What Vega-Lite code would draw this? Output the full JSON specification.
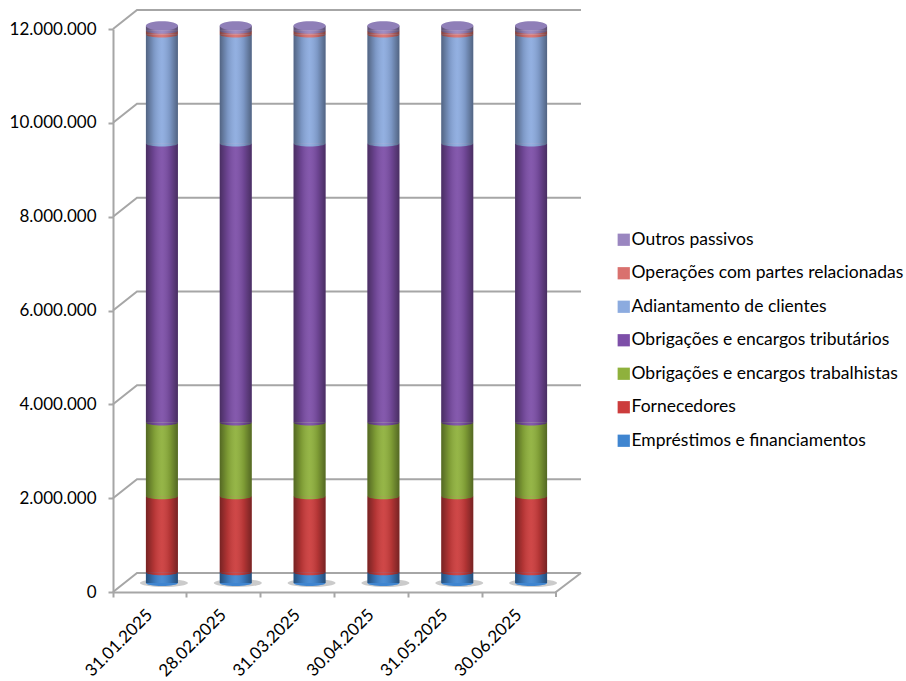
{
"$schema":"https://vega.github.io/schema/vega-lite/v6.json",
"width":443,"height":563,
"autosize":{"type":"none"},
"padding":{"left":113,"top":29,"right":350,"bottom":89},
"background":"white",
"data":{"values":[
{"date":"31.01.2025","series":"Empréstimos e financiamentos","ord":1,"value":230000},
{"date":"31.01.2025","series":"Fornecedores","ord":2,"value":1620000},
{"date":"31.01.2025","series":"Obrigações e encargos trabalhistas","ord":3,"value":1570000},
{"date":"31.01.2025","series":"Obrigações e encargos tributários","ord":4,"value":5950000},
{"date":"31.01.2025","series":"Adiantamento de clientes","ord":5,"value":2320000},
{"date":"31.01.2025","series":"Operações com partes relacionadas","ord":6,"value":80000},
{"date":"31.01.2025","series":"Outros passivos","ord":7,"value":110000},
{"date":"28.02.2025","series":"Empréstimos e financiamentos","ord":1,"value":230000},
{"date":"28.02.2025","series":"Fornecedores","ord":2,"value":1620000},
{"date":"28.02.2025","series":"Obrigações e encargos trabalhistas","ord":3,"value":1570000},
{"date":"28.02.2025","series":"Obrigações e encargos tributários","ord":4,"value":5950000},
{"date":"28.02.2025","series":"Adiantamento de clientes","ord":5,"value":2320000},
{"date":"28.02.2025","series":"Operações com partes relacionadas","ord":6,"value":80000},
{"date":"28.02.2025","series":"Outros passivos","ord":7,"value":110000},
{"date":"31.03.2025","series":"Empréstimos e financiamentos","ord":1,"value":230000},
{"date":"31.03.2025","series":"Fornecedores","ord":2,"value":1620000},
{"date":"31.03.2025","series":"Obrigações e encargos trabalhistas","ord":3,"value":1570000},
{"date":"31.03.2025","series":"Obrigações e encargos tributários","ord":4,"value":5950000},
{"date":"31.03.2025","series":"Adiantamento de clientes","ord":5,"value":2320000},
{"date":"31.03.2025","series":"Operações com partes relacionadas","ord":6,"value":80000},
{"date":"31.03.2025","series":"Outros passivos","ord":7,"value":110000},
{"date":"30.04.2025","series":"Empréstimos e financiamentos","ord":1,"value":230000},
{"date":"30.04.2025","series":"Fornecedores","ord":2,"value":1620000},
{"date":"30.04.2025","series":"Obrigações e encargos trabalhistas","ord":3,"value":1570000},
{"date":"30.04.2025","series":"Obrigações e encargos tributários","ord":4,"value":5950000},
{"date":"30.04.2025","series":"Adiantamento de clientes","ord":5,"value":2320000},
{"date":"30.04.2025","series":"Operações com partes relacionadas","ord":6,"value":80000},
{"date":"30.04.2025","series":"Outros passivos","ord":7,"value":110000},
{"date":"31.05.2025","series":"Empréstimos e financiamentos","ord":1,"value":230000},
{"date":"31.05.2025","series":"Fornecedores","ord":2,"value":1620000},
{"date":"31.05.2025","series":"Obrigações e encargos trabalhistas","ord":3,"value":1570000},
{"date":"31.05.2025","series":"Obrigações e encargos tributários","ord":4,"value":5950000},
{"date":"31.05.2025","series":"Adiantamento de clientes","ord":5,"value":2320000},
{"date":"31.05.2025","series":"Operações com partes relacionadas","ord":6,"value":80000},
{"date":"31.05.2025","series":"Outros passivos","ord":7,"value":110000},
{"date":"30.06.2025","series":"Empréstimos e financiamentos","ord":1,"value":230000},
{"date":"30.06.2025","series":"Fornecedores","ord":2,"value":1620000},
{"date":"30.06.2025","series":"Obrigações e encargos trabalhistas","ord":3,"value":1570000},
{"date":"30.06.2025","series":"Obrigações e encargos tributários","ord":4,"value":5950000},
{"date":"30.06.2025","series":"Adiantamento de clientes","ord":5,"value":2320000},
{"date":"30.06.2025","series":"Operações com partes relacionadas","ord":6,"value":80000},
{"date":"30.06.2025","series":"Outros passivos","ord":7,"value":110000}
]},
"transform":[{"stack":"value","groupby":["date"],"sort":[{"field":"ord","order":"ascending"}],"as":["y0","y1"]}],
"config":{"view":{"stroke":null},"font":"Lato"},
"encoding":{
"x":{"field":"date","type":"ordinal","sort":null,"scale":{"paddingInner":0,"paddingOuter":0},
"axis":{"title":null,"bandPosition":0,"labelAngle":-45,"labelAlign":"right","labelBaseline":"middle","labelFontSize":17,"labelColor":"#000000","labelFont":"Lato","labelPadding":15,"labelOffset":0,"domainColor":"#a6a6a6","domainWidth":2,"tickColor":"#a6a6a6","tickWidth":2,"tickSize":5,"grid":false}}
},
"layer":[
{"data":{"values":[{"tick":0},{"tick":2000000},{"tick":4000000},{"tick":6000000},{"tick":8000000},{"tick":10000000},{"tick":12000000}]},
 "transform":[],
 "mark":{"type":"point","filled":false,"stroke":"#a6a6a6","strokeWidth":2,"opacity":1,"size":4,"shape":"M-221.5,0L-197.5,-19L246.5,-19"},
 "encoding":{"x":null,"y":{"field":"tick","type":"quantitative","scale":{"domain":[0,12000000],"nice":false},
  "axis":{"title":null,"values":[0,2000000,4000000,6000000,8000000,10000000,12000000],"grid":false,"labelExpr":"replace(format(datum.value,','),/,/g,'.')","labelFontSize":17,"labelColor":"#000000","labelFont":"Lato","labelPadding":12,"domainColor":"#a6a6a6","domainWidth":2,"tickColor":"#a6a6a6","tickWidth":2,"tickSize":5}}}},
{"data":{"values":[{"tick":0}]},"transform":[],
 "mark":{"type":"point","filled":false,"stroke":"#a6a6a6","strokeWidth":2,"opacity":1,"size":4,"shape":"M221.5,5L221.5,0L246.5,-19"},
 "encoding":{"x":null,"y":{"field":"tick","type":"quantitative"}}},
{"transform":[{"filter":"datum.ord==1"}],
 "mark":{"type":"point","filled":true,"fill":"#8c8c8c","opacity":0.45,"size":4,"yOffset":-9,"xOffset":14,"shape":"M-24,0A24,4,0,1,1,24,0A24,4,0,1,1,-24,0Z"},
 "encoding":{"y":{"datum":0}}},
{"mark":{"type":"bar","width":32,"xOffset":12,"yOffset":-9,"y2Offset":-9},
 "encoding":{"y":{"field":"y0","type":"quantitative"},"y2":{"field":"y1"},
  "color":{"field":"series","type":"nominal","sort":null,
   "scale":{"domain":["Outros passivos","Operações com partes relacionadas","Adiantamento de clientes","Obrigações e encargos tributários","Obrigações e encargos trabalhistas","Fornecedores","Empréstimos e financiamentos"],
    "range":["#9a86c0","#d9716e","#8cabdf","#7d4fa8","#8fb13c","#cc3c3c","#3f85d0"]},
   "legend":{"title":null,"orient":"none","legendX":502,"legendY":202,"symbolType":"square","symbolSize":150,"symbolStrokeWidth":0,"labelFontSize":17.5,"labelColor":"#000000","labelFont":"Lato","labelLimit":300,"rowPadding":14.5,"labelOffset":-1,"symbolOpacity":1}}}},
{"mark":{"type":"point","filled":true,"opacity":1,"size":4,"xOffset":12,"yOffset":-9,"shape":"M-16,0A16,3,0,0,0,16,0Z"},
 "encoding":{"y":{"field":"y0","type":"quantitative"},"color":{"field":"series","type":"nominal","sort":null,"legend":null}}},
{"transform":[{"filter":"datum.ord==7"}],
 "mark":{"type":"bar","width":32,"xOffset":12,"yOffset":-9,"y2Offset":-9,"fill":{"gradient":"linear","x1":0,"x2":1,"y1":0,"y2":0,"stops":[{"offset":0,"color":"rgba(0,0,0,0.42)"},{"offset":0.25,"color":"rgba(0,0,0,0.12)"},{"offset":0.5,"color":"rgba(255,255,255,0.06)"},{"offset":0.75,"color":"rgba(0,0,0,0.12)"},{"offset":1,"color":"rgba(0,0,0,0.42)"}]}},
 "encoding":{"y":{"field":"y1","type":"quantitative"},"y2":{"datum":0}}},
{"transform":[{"filter":"datum.ord==7"}],
 "mark":{"type":"point","filled":true,"opacity":1,"fill":"#8f7fb8","size":4,"xOffset":12,"yOffset":-9,"shape":"M-16,0A16,4.5,0,1,1,16,0A16,4.5,0,1,1,-16,0Z"},
 "encoding":{"y":{"field":"y1","type":"quantitative"}}}
]
}
